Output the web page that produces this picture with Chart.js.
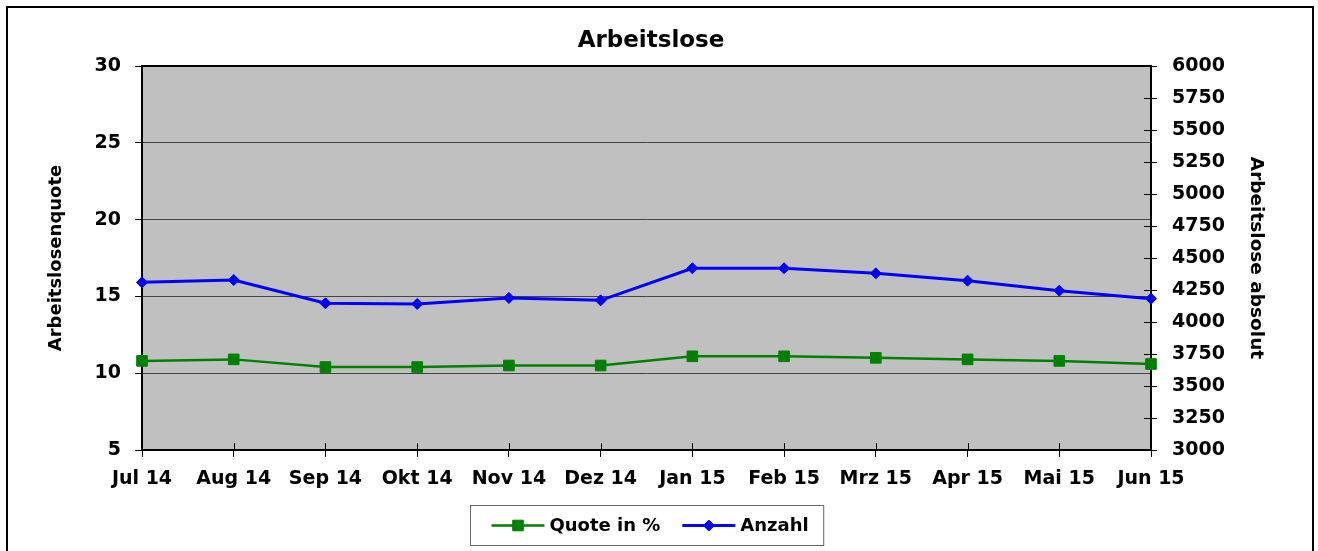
<!DOCTYPE html>
<html>
<head>
<meta charset="utf-8">
<script src="https://cdn.jsdelivr.net/npm/chart.js@4.4.1/dist/chart.umd.min.js"></script>
<style>
html,body{margin:0;padding:0;background:#fff;}
#c{display:block;}
</style>
</head>
<body>
<canvas id="c" width="1318" height="551"></canvas>
<script>
// ---- data ----
const months = ['Jul 14','Aug 14','Sep 14','Okt 14','Nov 14','Dez 14','Jan 15','Feb 15','Mrz 15','Apr 15','Mai 15','Jun 15'];
const quoteInProzent = [10.8,10.9,10.4,10.4,10.5,10.5,11.1,11.1,11.0,10.9,10.8,10.6];
const anzahl = [4310,4328,4146,4141,4188,4169,4420,4420,4380,4323,4245,4182];
const quoteAxis = {min:5, max:30, step:5};
const anzahlAxis = {min:3000, max:6000, step:250};
const seriesNames = ['Quote in %','Anzahl'];
const titleText = 'Arbeitslose';
const leftTitle = 'Arbeitslosenquote';
const rightTitle = 'Arbeitslose absolut';

const FONT = '"DejaVu Sans", "Verdana", sans-serif';
const f = (size)=>({family:FONT, size:size, weight:'bold'});

const decor = {
  id:'decor',
  beforeDraw(chart){
    const {ctx, chartArea:a} = chart;
    ctx.save();
    ctx.fillStyle = '#fff';
    ctx.fillRect(0,0,chart.width,chart.height);
    ctx.fillStyle = '#C0C0C0';
    ctx.fillRect(a.left,a.top,a.right-a.left,a.bottom-a.top);
    ctx.strokeStyle = '#000';
    ctx.lineWidth = 2;
    ctx.strokeRect(7,7,1306,600);
    ctx.restore();
  },
  beforeDatasetsDraw(chart){
    const {ctx, chartArea:a, scales} = chart;
    ctx.save();
    ctx.strokeStyle = '#000';
    ctx.lineWidth = 1;
    ctx.beginPath();
    const xs = scales.x;
    xs.ticks.forEach((t,i)=>{
      const px = Math.round(xs.getPixelForTick(i))+0.5;
      ctx.moveTo(px,a.bottom-7); ctx.lineTo(px,a.bottom);
    });
    const ys = scales.y1;
    ys.ticks.forEach((t)=>{
      const py = Math.round(ys.getPixelForValue(t.value))+0.5;
      ctx.moveTo(a.right-7,py); ctx.lineTo(a.right,py);
    });
    ctx.stroke();
    ctx.lineWidth = 2;
    ctx.strokeRect(a.left,a.top,a.right-a.left,a.bottom-a.top);
    ctx.restore();
  },
  afterDraw(chart){
    const {ctx, chartArea:a} = chart;
    const ds = chart.data.datasets;
    ctx.save();
    ctx.font = 'bold 18px ' + FONT;
    const w = ds.map(d=>ctx.measureText(d.label).width);
    const lineLen = 53, gapT = 5, gapItem = 22, padL = 21, padR = 15;
    const content = lineLen+gapT+w[0]+gapItem+lineLen+gapT+w[1];
    const boxW = content+padL+padR, boxH = 40;
    const cx = (a.left+a.right)/2;
    const bx = Math.round(cx-boxW/2)+0.5, by = a.bottom+55.5;
    ctx.strokeStyle = '#666';
    ctx.lineWidth = 1;
    ctx.strokeRect(bx,by,boxW,boxH);
    let x = bx+padL;
    const cy = by+boxH/2;
    ds.forEach((d,i)=>{
      ctx.strokeStyle = d.borderColor;
      ctx.lineWidth = d.borderWidth;
      ctx.beginPath(); ctx.moveTo(x,cy); ctx.lineTo(x+lineLen,cy); ctx.stroke();
      ctx.fillStyle = d.pointBackgroundColor;
      ctx.strokeStyle = d.pointBorderColor;
      ctx.lineWidth = 1;
      ctx.beginPath();
      if(d.pointStyle==='rect'){
        const s = d.pointRadius*Math.SQRT1_2;
        ctx.rect(x+lineLen/2-s,cy-s,2*s,2*s);
      } else {
        const r = d.pointRadius;
        ctx.moveTo(x+lineLen/2,cy-r); ctx.lineTo(x+lineLen/2+r,cy); ctx.lineTo(x+lineLen/2,cy+r); ctx.lineTo(x+lineLen/2-r,cy); ctx.closePath();
      }
      ctx.fill(); ctx.stroke();
      ctx.fillStyle = '#000';
      ctx.textBaseline = 'middle';
      ctx.textAlign = 'left';
      ctx.fillText(d.label,x+lineLen+gapT,cy+1);
      x += lineLen+gapT+w[i]+gapItem;
    });
    ctx.restore();
  }
};

new Chart(document.getElementById('c'),{
  type:'line',
  data:{
    labels: months,
    datasets:[
      {label:seriesNames[0], data:quoteInProzent, yAxisID:'y', borderColor:'#008000', backgroundColor:'#008000',
       borderWidth:2.5, pointStyle:'rect', pointRadius:7.5, pointBackgroundColor:'#008000', pointBorderColor:'#008000',
       pointBorderWidth:1, tension:0, clip:false, order:2},
      {label:seriesNames[1], data:anzahl, yAxisID:'y1', borderColor:'#0000FF', backgroundColor:'#0000FF',
       borderWidth:3, pointStyle:'rectRot', pointRadius:5.5, pointBackgroundColor:'#0000FF', pointBorderColor:'#0000FF',
       pointBorderWidth:1, tension:0, clip:false, order:1}
    ]
  },
  options:{
    responsive:false,
    animation:false,
    events:[],
    layout:{padding:{left:4,right:20,top:10,bottom:51}},
    plugins:{
      legend:{display:false},
      tooltip:{enabled:false},
      title:{display:true, text:titleText, color:'#000', font:f(23), padding:{top:17,bottom:11.4}}
    },
    scales:{
      x:{
        type:'category', offset:false,
        grid:{drawOnChartArea:false, color:'#000', tickLength:7, lineWidth:1},
        border:{display:false},
        ticks:{color:'#000', font:f(19), padding:11, maxRotation:0, autoSkip:false},
        afterFit(s){ s.height = 50; }
      },
      y:{
        position:'left', min:quoteAxis.min, max:quoteAxis.max,
        ticks:{stepSize:quoteAxis.step, color:'#000', font:f(19), padding:14},
        grid:{color:'#444', tickColor:'#000', tickLength:7, lineWidth:1},
        border:{display:false},
        title:{display:true, text:leftTitle, color:'#000', font:f(18), padding:{top:42,bottom:0}},
        afterFit(s){ s.width = 138; }
      },
      y1:{
        position:'right', min:anzahlAxis.min, max:anzahlAxis.max,
        ticks:{stepSize:anzahlAxis.step, color:'#000', font:f(19), padding:15, callback:(v)=>String(v)},
        grid:{drawOnChartArea:false, color:'#000', tickLength:6, lineWidth:1},
        border:{display:false},
        title:{display:true, text:rightTitle, color:'#000', font:f(18.5), padding:{top:31,bottom:0}},
        afterFit(s){ s.width = 147; }
      }
    }
  },
  plugins:[decor]
});
</script>
</body>
</html>
